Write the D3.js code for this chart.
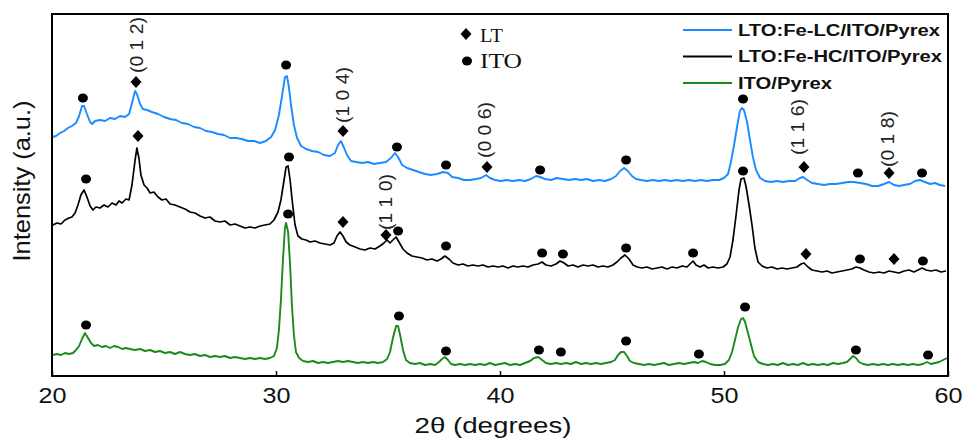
<!DOCTYPE html>
<html><head><meta charset="utf-8">
<script src="https://cdn.jsdelivr.net/npm/d3@7"></script>
<style>body{margin:0;background:#fff}svg{display:block}</style>
</head><body><svg id="c" width="963" height="439"></svg>
<script>
// 2θ (deg), intensity (arb. units, offset traces)
const blueLC = [[20.00,239],[20.18,240],[20.36,243],[20.54,245],[20.71,248],[20.89,250],[21.07,253],[21.21,260],[21.34,270],[21.43,270],[21.56,262],[21.70,254],[21.79,252],[21.92,255],[22.14,256],[22.37,255],[22.59,258],[22.81,257],[23.04,260],[23.26,259],[23.44,262],[23.57,273],[23.71,285],[23.79,282],[23.93,272],[24.06,267],[24.24,266],[24.46,264],[24.73,262],[25.00,259],[25.27,257],[25.54,256],[25.80,253],[26.07,252],[26.34,249],[26.61,248],[26.88,245],[27.14,244],[27.41,242],[27.68,241],[27.95,238],[28.21,238],[28.48,237],[28.75,235],[29.02,235],[29.29,233],[29.55,235],[29.78,239],[29.96,246],[30.13,261],[30.27,280],[30.40,299],[30.49,300],[30.58,288],[30.67,271],[30.80,251],[30.94,238],[31.12,230],[31.34,227],[31.61,225],[31.88,224],[32.14,221],[32.41,220],[32.63,223],[32.77,231],[32.90,235],[33.04,228],[33.17,221],[33.35,215],[33.57,214],[33.84,213],[34.11,214],[34.38,212],[34.64,213],[34.91,214],[35.13,218],[35.31,223],[35.45,219],[35.63,211],[35.85,208],[36.12,206],[36.38,204],[36.65,202],[36.92,201],[37.19,202],[37.46,204],[37.68,203],[37.86,199],[38.13,198],[38.39,196],[38.66,196],[38.93,197],[39.15,198],[39.38,201],[39.55,198],[39.78,196],[40.04,195],[40.31,196],[40.58,195],[40.85,196],[41.12,195],[41.38,197],[41.61,200],[41.79,199],[42.01,197],[42.28,196],[42.54,198],[42.81,197],[43.08,196],[43.35,197],[43.62,196],[43.88,197],[44.15,195],[44.42,196],[44.69,195],[44.96,197],[45.18,200],[45.36,205],[45.54,208],[45.71,205],[45.89,200],[46.07,197],[46.29,196],[46.56,195],[46.83,196],[47.10,195],[47.37,196],[47.63,195],[47.90,196],[48.17,195],[48.44,196],[48.71,195],[48.97,196],[49.24,195],[49.51,196],[49.78,196],[50.00,198],[50.18,202],[50.31,214],[50.45,231],[50.58,249],[50.71,265],[50.80,268],[50.89,266],[51.03,254],[51.16,236],[51.29,219],[51.43,206],[51.61,198],[51.83,195],[52.10,194],[52.37,195],[52.63,194],[52.90,195],[53.17,195],[53.39,198],[53.53,199],[53.71,196],[53.93,193],[54.20,192],[54.46,191],[54.73,192],[55.00,192],[55.27,193],[55.54,194],[55.80,194],[56.07,193],[56.34,192],[56.61,190],[56.88,190],[57.14,192],[57.37,194],[57.59,191],[57.81,190],[58.04,191],[58.30,192],[58.53,195],[58.75,196],[58.97,194],[59.20,192],[59.42,193],[59.64,191],[59.87,190]];
const blackHC = [[20.04,151],[20.22,153],[20.40,152],[20.58,156],[20.76,158],[20.89,159],[21.03,163],[21.16,171],[21.29,181],[21.43,186],[21.56,179],[21.70,170],[21.83,166],[21.96,169],[22.14,168],[22.32,171],[22.50,169],[22.68,173],[22.86,171],[22.99,175],[23.13,173],[23.30,177],[23.44,176],[23.57,191],[23.71,216],[23.79,228],[23.88,218],[23.97,201],[24.11,191],[24.24,188],[24.38,183],[24.55,184],[24.73,179],[24.91,176],[25.09,177],[25.27,172],[25.49,171],[25.71,169],[25.94,167],[26.16,164],[26.38,163],[26.61,160],[26.83,158],[27.05,159],[27.28,155],[27.50,154],[27.72,155],[27.95,151],[28.17,152],[28.39,150],[28.62,148],[28.84,149],[29.06,148],[29.29,150],[29.51,151],[29.73,152],[29.91,156],[30.09,164],[30.22,176],[30.36,196],[30.45,209],[30.54,210],[30.63,196],[30.71,178],[30.85,151],[30.98,140],[31.16,137],[31.34,136],[31.52,134],[31.74,135],[31.96,133],[32.19,132],[32.41,131],[32.59,133],[32.72,140],[32.86,144],[32.99,140],[33.13,134],[33.30,131],[33.53,129],[33.75,127],[33.97,126],[34.20,128],[34.42,127],[34.64,130],[34.82,133],[34.96,136],[35.09,133],[35.22,136],[35.36,139],[35.49,134],[35.67,127],[35.85,123],[36.07,120],[36.29,119],[36.52,118],[36.74,116],[36.96,117],[37.19,115],[37.37,117],[37.54,120],[37.72,117],[37.90,113],[38.13,111],[38.35,112],[38.57,110],[38.79,111],[39.02,110],[39.24,111],[39.46,109],[39.69,110],[39.91,109],[40.13,110],[40.36,108],[40.58,110],[40.80,109],[41.03,110],[41.25,109],[41.47,111],[41.70,112],[41.88,114],[42.05,111],[42.28,110],[42.50,112],[42.68,115],[42.86,113],[43.04,110],[43.26,111],[43.48,109],[43.71,111],[43.93,110],[44.15,111],[44.38,109],[44.60,110],[44.82,109],[45.04,111],[45.22,114],[45.40,118],[45.58,121],[45.76,117],[45.94,111],[46.12,109],[46.34,108],[46.56,109],[46.79,107],[47.01,108],[47.23,109],[47.46,107],[47.68,109],[47.90,108],[48.13,110],[48.35,109],[48.48,112],[48.62,115],[48.75,111],[48.93,109],[49.11,111],[49.29,108],[49.51,109],[49.73,108],[49.96,109],[50.13,112],[50.27,119],[50.40,136],[50.54,161],[50.67,186],[50.76,197],[50.89,198],[50.98,190],[51.12,171],[51.25,151],[51.38,128],[51.52,114],[51.70,110],[51.92,108],[52.14,109],[52.37,107],[52.59,108],[52.81,107],[53.04,108],[53.26,109],[53.44,112],[53.57,113],[53.75,109],[53.93,106],[54.15,105],[54.38,104],[54.60,105],[54.82,103],[55.04,104],[55.27,105],[55.49,106],[55.71,107],[55.89,109],[56.07,108],[56.25,106],[56.47,104],[56.70,103],[56.92,104],[57.14,103],[57.37,105],[57.59,104],[57.81,103],[58.04,105],[58.26,106],[58.48,104],[58.66,106],[58.84,108],[59.02,106],[59.24,105],[59.46,106],[59.69,104],[59.91,105]];
const greenITO = [[20.04,21],[20.22,22],[20.40,21],[20.58,23],[20.76,22],[20.94,23],[21.07,26],[21.21,30],[21.34,37],[21.47,43],[21.61,38],[21.74,33],[21.88,30],[22.05,31],[22.23,29],[22.41,30],[22.59,28],[22.77,30],[22.95,29],[23.13,27],[23.30,28],[23.48,27],[23.71,26],[23.93,27],[24.15,25],[24.38,26],[24.60,24],[24.82,25],[25.04,23],[25.27,24],[25.49,22],[25.71,24],[25.94,22],[26.16,21],[26.38,22],[26.61,20],[26.83,21],[27.05,19],[27.28,20],[27.50,19],[27.72,20],[27.95,18],[28.17,19],[28.39,18],[28.62,17],[28.84,18],[29.06,17],[29.29,18],[29.51,17],[29.73,18],[29.91,20],[30.04,28],[30.13,46],[30.22,76],[30.31,116],[30.40,148],[30.45,153],[30.54,144],[30.63,111],[30.71,71],[30.80,41],[30.89,24],[31.03,18],[31.21,15],[31.43,14],[31.65,15],[31.88,13],[32.10,14],[32.32,13],[32.54,14],[32.77,15],[32.99,14],[33.21,15],[33.44,14],[33.66,13],[33.88,14],[34.11,13],[34.33,14],[34.55,13],[34.78,14],[34.96,17],[35.09,24],[35.22,38],[35.36,50],[35.45,50],[35.54,41],[35.67,26],[35.80,16],[35.98,13],[36.21,12],[36.43,13],[36.65,11],[36.88,12],[37.10,11],[37.28,14],[37.41,17],[37.54,19],[37.68,16],[37.81,12],[37.99,11],[38.21,12],[38.44,11],[38.66,12],[38.88,11],[39.11,12],[39.33,11],[39.55,13],[39.78,11],[40.00,12],[40.22,13],[40.45,11],[40.67,12],[40.89,11],[41.12,13],[41.34,15],[41.52,18],[41.70,19],[41.88,16],[42.05,13],[42.28,12],[42.50,13],[42.72,12],[42.95,13],[43.17,12],[43.39,14],[43.62,12],[43.84,13],[44.06,12],[44.29,13],[44.51,12],[44.73,13],[44.96,14],[45.13,16],[45.27,21],[45.40,24],[45.54,24],[45.67,20],[45.80,15],[45.98,13],[46.21,12],[46.43,11],[46.65,12],[46.88,11],[47.10,12],[47.32,13],[47.54,11],[47.77,12],[47.99,13],[48.21,12],[48.44,13],[48.66,14],[48.84,13],[49.02,15],[49.20,14],[49.38,12],[49.60,11],[49.82,11],[50.04,12],[50.22,16],[50.36,24],[50.49,36],[50.63,49],[50.76,57],[50.85,58],[50.94,54],[51.07,43],[51.21,31],[51.34,20],[51.52,14],[51.74,12],[51.96,11],[52.19,12],[52.41,11],[52.63,13],[52.86,11],[53.08,12],[53.30,11],[53.53,13],[53.75,11],[53.97,12],[54.20,11],[54.42,12],[54.64,11],[54.87,13],[55.09,12],[55.31,13],[55.49,14],[55.63,17],[55.76,20],[55.89,18],[56.03,14],[56.21,12],[56.43,11],[56.65,12],[56.88,11],[57.10,12],[57.32,11],[57.54,12],[57.77,11],[57.99,12],[58.21,11],[58.44,12],[58.66,11],[58.88,12],[59.06,14],[59.24,12],[59.42,13],[59.60,14],[59.78,16],[59.96,18]];

// Phase markers: LT (diamond) and ITO (dot), [2θ, intensity]
const ltMarks = [[23.75,294],[32.99,245],[39.42,209],[53.57,209],[57.37,203],[23.84,240],[32.99,154],[34.91,141],[53.66,122],[57.59,117]];
const itoMarks = [[21.38,278],[30.45,311],[35.40,229],[37.59,211],[41.79,206],[45.63,216],[50.85,277],[55.98,203],[58.84,203],[21.52,197],[30.58,219],[35.45,145],[37.59,130],[41.88,123],[42.81,122],[45.63,128],[48.62,123],[50.85,205],[56.07,117],[58.88,115],[21.52,51],[30.54,162],[35.49,60],[37.59,25],[41.74,26],[42.72,24],[45.63,35],[48.88,22],[50.94,69],[55.89,26],[59.11,21]];
// Miller index labels [text, 2θ, intensity at label start]
const hklLabels = [["(0 1 2)",23.75,303],["(1 0 4)",32.95,253],["(1 1 0)",34.87,146],["(0 0 6)",39.33,218],["(1 1 6)",53.26,221],["(0 1 8)",57.32,209]];
const seriesNames = ["LTO:Fe-LC/ITO/Pyrex","LTO:Fe-HC/ITO/Pyrex","ITO/Pyrex"];
const seriesColors = ["#1a8cff","#000000","#1a8a1a"];
const xTicks = [20,30,40,50,60];

const svg = d3.select("#c");
const L=52,R=948,T=14,B=376;
const x = d3.scaleLinear().domain([20,60]).range([L,R]);
const y = d3.scaleLinear().domain([0,362]).range([B,T]);
const line = d3.line().x(d=>x(d[0])).y(d=>y(d[1]));

const all=[blueLC,blackHC,greenITO];
all.forEach((s,i)=>{
  svg.append("path").datum(s).attr("d",line).attr("fill","none")
    .attr("stroke",seriesColors[i]).attr("stroke-width",i===1?1.7:1.9).attr("stroke-linejoin","round");
});

// axis
const ax = svg.append("g").attr("transform",`translate(0,${B})`)
  .call(d3.axisBottom(x).tickValues(xTicks).tickSizeInner(-5).tickSizeOuter(0).tickPadding(11).tickFormat(d3.format("d")));
ax.select(".domain").remove();
ax.selectAll(".tick line").attr("stroke","#000").attr("stroke-width",1.5);
ax.selectAll(".tick text").attr("font-family","Arial, Liberation Sans, sans-serif").attr("font-size",22)
  .attr("fill","#111").attr("dy","0.71em").attr("textLength",28).attr("lengthAdjust","spacingAndGlyphs");
svg.append("rect").attr("x",L).attr("y",T).attr("width",R-L).attr("height",B-T)
  .attr("fill","none").attr("stroke","#000").attr("stroke-width",2);

svg.append("text").attr("x",(L+R)/2 - 7).attr("y",433).attr("text-anchor","middle")
  .attr("font-family","Arial, Liberation Sans, sans-serif").attr("font-size",22).attr("fill","#111")
  .attr("textLength",157).attr("lengthAdjust","spacingAndGlyphs").text("2θ (degrees)");
svg.append("text").attr("transform","translate(30,181) rotate(-90)").attr("text-anchor","middle")
  .attr("font-family","Arial, Liberation Sans, sans-serif").attr("font-size",24).attr("fill","#111")
  .attr("textLength",161).attr("lengthAdjust","spacingAndGlyphs").text("Intensity (a.u.)");

// markers
const diamond = (cx,cy,w,h)=>`M${cx},${cy-h}L${cx+w},${cy}L${cx},${cy+h}L${cx-w},${cy}Z`;
svg.append("g").selectAll("path").data(ltMarks).join("path")
  .attr("d",d=>diamond(x(d[0]),y(d[1]),5.5,6)).attr("fill","#000");
svg.append("g").selectAll("ellipse").data(itoMarks).join("ellipse")
  .attr("cx",d=>x(d[0])).attr("cy",d=>y(d[1])).attr("rx",5).attr("ry",4.5).attr("fill","#000");

// hkl labels
svg.append("g").selectAll("text").data(hklLabels).join("text")
  .attr("transform",d=>`translate(${x(d[1])},${y(d[2])}) rotate(-90)`)
  .attr("dominant-baseline","central").attr("font-family","Arial, Liberation Sans, sans-serif")
  .attr("font-size",19).attr("fill","#222").attr("textLength",56).attr("lengthAdjust","spacingAndGlyphs")
  .text(d=>d[0]);

// phase legend
svg.append("path").attr("d",diamond(466,34,5.5,6)).attr("fill","#000");
svg.append("text").attr("x",480).attr("y",42).attr("font-family","Times New Roman, Liberation Serif, serif")
  .attr("font-size",19).attr("fill","#111").attr("textLength",23).attr("lengthAdjust","spacingAndGlyphs").text("LT");
svg.append("ellipse").attr("cx",467).attr("cy",61).attr("rx",5).attr("ry",4.5).attr("fill","#000");
svg.append("text").attr("x",480).attr("y",68).attr("font-family","Times New Roman, Liberation Serif, serif")
  .attr("font-size",22).attr("fill","#111").attr("textLength",42).attr("lengthAdjust","spacingAndGlyphs").text("ITO");

// series legend
const legW=[202,204,94];
const lg = svg.append("g").selectAll("g").data(seriesNames).join("g")
  .attr("transform",(d,i)=>`translate(683,${30+i*26.5})`);
lg.append("line").attr("x1",0).attr("x2",49).attr("stroke",(d,i)=>seriesColors[i]).attr("stroke-width",2);
lg.append("text").attr("x",55).attr("dominant-baseline","central").attr("font-family","Arial, Liberation Sans, sans-serif")
  .attr("font-weight","bold").attr("font-size",16).attr("fill","#111")
  .attr("textLength",(d,i)=>legW[i]).attr("lengthAdjust","spacingAndGlyphs").text(d=>d);
</script></body></html>
